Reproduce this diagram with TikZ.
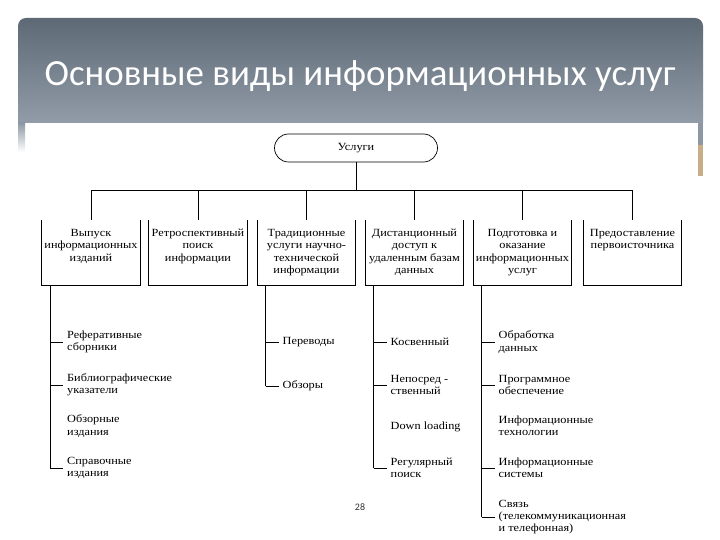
\documentclass[tikz,border=0pt]{standalone}
\usepackage{fontspec}
\setmainfont{Liberation Serif}
\newfontfamily\dgfont{Liberation Serif}[FakeStretch=1.12]
\newfontfamily\ttlfont{Carlito}
\usetikzlibrary{positioning,calc}
\definecolor{bantop}{HTML}{5E6976}
\definecolor{banbot}{HTML}{929CA9}
\definecolor{stripgray}{HTML}{8E98A5}
\definecolor{striptan}{HTML}{C8AE86}
\definecolor{pgnum}{HTML}{333333}
\newcommand{\dg}{\dgfont\fontsize{11}{12.5}\selectfont}
\tikzset{
  ln/.style     ={draw=black, line width=0.8bp},
  svc/.style    ={draw=black, line width=0.7bp, rounded corners=14bp,
                  minimum width=163bp, minimum height=28bp, inner sep=0pt, font=\dg},
  cat/.style    ={minimum width=98bp, minimum height=65bp, inner sep=0pt},
  cattxt/.style ={anchor=north, align=center, inner sep=0pt, font=\dg},
  leaf/.style   ={anchor=west, align=left, inner xsep=4bp, inner ysep=0pt, font=\dg},
  ttl/.style    ={font=\ttlfont\fontsize{37}{40}\selectfont, text=white, inner sep=0pt},
}

\begin{document}
\begin{tikzpicture}[x=1bp,y=-1bp]
  \useasboundingbox (0,0) rectangle (720,540);
  \fill[white] (0,0) rectangle (720,540);
  % title banner
  \shade[top color=bantop, bottom color=banbot]
    (18,123) {[rounded corners=8bp] -- (18,18) -- (703,18)} -- (703,123) -- cycle;
  \shade[top color=stripgray, bottom color=white] (18,123) rectangle (25,152);
  \fill[stripgray] (698,123) rectangle (703,145);
  \fill[striptan] (698,145) rectangle (703,176);
  \node[ttl] (title) at (360,76) {Основные виды информационных услуг};

  \node[svc] (u) at (356,148) {Услуги};
  \coordinate (bus) at (356,190);
  \draw[ln] (u.south) -- (bus);

  \foreach \i/\x/\txt in {1/91/{Выпуск\\информационных\\изданий},
                          2/198/{Ретроспективный\\поиск\\информации},
                          3/306.5/{Традиционные\\услуги научно-\\технической\\информации},
                          4/414.5/{Дистанционный\\доступ к\\удаленным базам\\данных},
                          5/522.5/{Подготовка и\\оказание\\информационных\\услуг},
                          6/632.5/{Предоставление\\первоисточника}}{
    \node[cat] (b\i) at (\x,252.5) {};
    \draw[ln] (b\i.north west) -- (b\i.south west) -- (b\i.south east) -- (b\i.north east);
    \node[cattxt] (t\i) at ([yshift=-9bp]b\i.north) {\txt};
    \draw[ln] (b\i.north |- bus) -- (b\i.north);
  }
  \draw[ln] (b1.north |- bus) -- (b6.north |- bus);

  % spines below the boxes
  \foreach \c/\sx in {1/50,3/265.5,4/373.5,5/481.5}
    \coordinate (s\c) at (\sx,285);

  \foreach \j/\y/\tk/\txt in {1/342/1/{Реферативные\\сборники},
                              2/385/1/{Библиографические\\указатели},
                              3/426/0/{Обзорные\\издания},
                              4/468/1/{Справочные\\издания}}{
    \node[leaf] (a\j) at (63,\y) {\txt};
    \ifnum\tk=1 \draw[ln] (a\j.west -| s1) -- (a\j.west); \fi
  }
  \draw[ln] (s1) -- (s1 |- a4.west);

  \foreach \j/\y/\txt in {1/342/{Переводы}, 2/386/{Обзоры}}{
    \node[leaf] (c\j) at (278.5,\y) {\txt};
    \draw[ln] (c\j.west -| s3) -- (c\j.west);
  }
  \draw[ln] (s3) -- (s3 |- c2.west);

  \foreach \j/\y/\tk/\txt in {1/342/1/{Косвенный},
                              2/385/1/{Непосред -\\ственный},
                              3/427/0/{Down loading},
                              4/468/1/{Регулярный\\поиск}}{
    \node[leaf] (d\j) at (386.5,\y) {\txt};
    \ifnum\tk=1 \draw[ln] (d\j.west -| s4) -- (d\j.west); \fi
  }
  \draw[ln] (s4) -- (s4 |- d4.west);

  \foreach \j/\y/\tk/\txt in {1/342/1/{Обработка\\данных},
                              2/385/1/{Программное\\обеспечение},
                              3/426/0/{Информационные\\технологии},
                              4/468/1/{Информационные\\системы},
                              5/517/1/{Связь\\(телекоммуникационная\\и телефонная)}}{
    \node[leaf] (e\j) at (494.5,\y) {\txt};
    \ifnum\tk=1 \draw[ln] (e\j.west -| s5) -- (e\j.west); \fi
  }
  \draw[ln] (s5) -- (s5 |- e5.west);

  \node[font=\ttlfont\fontsize{10}{12}\selectfont, text=pgnum] (pg) at (360,507) {28};
\end{tikzpicture}
\end{document}
